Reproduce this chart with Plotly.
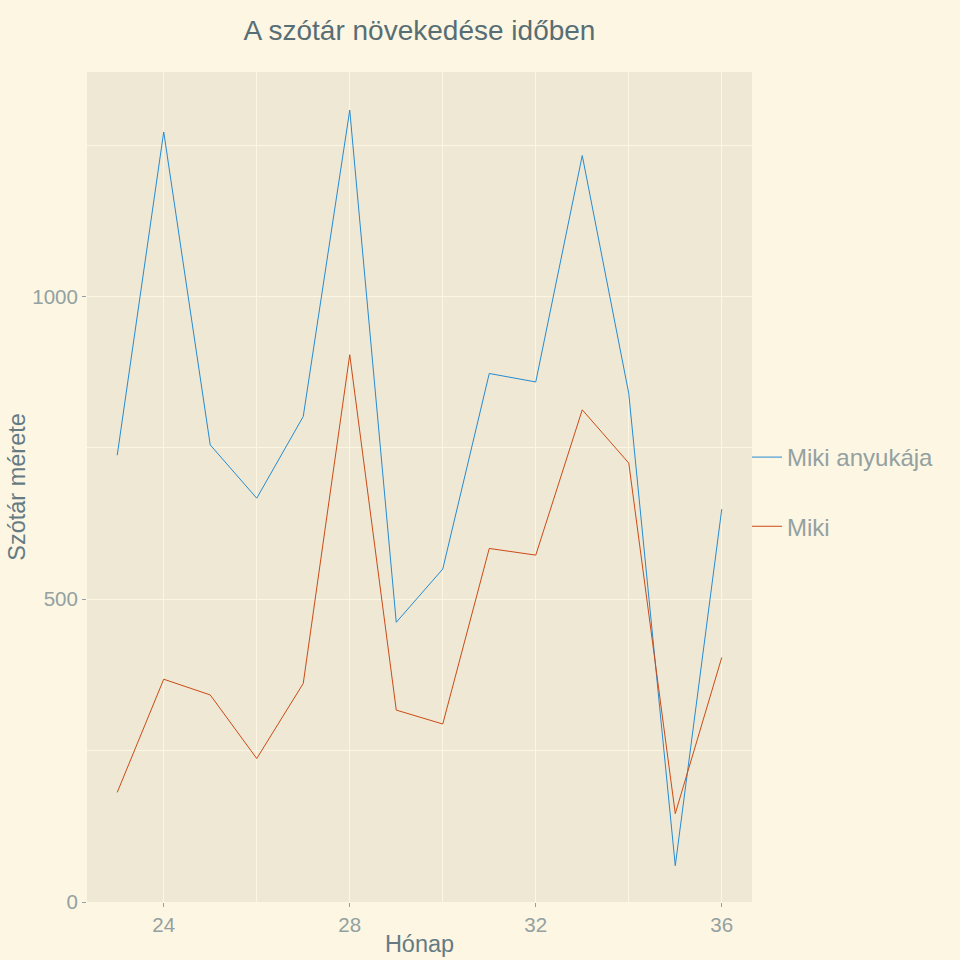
import plotly.graph_objects as go

months = [23, 24, 25, 26, 27, 28, 29, 30, 31, 32, 33, 34, 35, 36]
anyu = [738, 1272, 755, 667, 802, 1308, 462, 550, 873, 859, 1233, 840, 60, 649]
miki = [181, 368, 342, 237, 361, 904, 317, 294, 584, 573, 813, 725, 146, 404]
series_names = ["Miki anyukája", "Miki"]
colors = ["#268bd2", "#cb4b16"]

fig = go.Figure()
for name, vals, col, grp in [(series_names[0], anyu, colors[0], "a"),
                             (series_names[1], miki, colors[1], "b")]:
    fig.add_trace(go.Scatter(x=months, y=vals, mode="lines", name=name,
                             legendgroup=grp,
                             line=dict(color=col, width=1)))

font_family = "Liberation Sans"
fig.update_layout(
    width=960, height=960,
    paper_bgcolor="#fdf6e3", plot_bgcolor="#eee8d5",
    margin=dict(l=87, r=208, t=72, b=58, autoexpand=False),
    title=dict(text="A szótár növekedése időben", x=0.437, xanchor="center",
               y=0.969, yanchor="middle",
               font=dict(family=font_family, size=28, color="#586e75")),
    font=dict(family=font_family),
    showlegend=True,
    legend=dict(x=0.9925, xanchor="left", y=0.494, yanchor="middle",
                bgcolor="rgba(0,0,0,0)", tracegroupgap=35,
                font=dict(size=24, color="#93a1a1"), itemwidth=30),
    xaxis=dict(range=[22.35, 36.65], tick0=24, dtick=4, showgrid=True,
               gridcolor="#fdf6e3", gridwidth=1, zeroline=False,
               ticks="outside", ticklen=4, tickcolor="#93a1a1",
               tickfont=dict(size=20.5, color="#93a1a1"),
               automargin=False,
               minor=dict(showgrid=True, dtick=2, tick0=24, gridcolor="#fdf6e3", gridwidth=0.6),
               title=dict(text="Hónap", standoff=0,
                          font=dict(size=23.5, color="#657b83"))),
    yaxis=dict(range=[0, 1371], tick0=0, dtick=500, showgrid=True,
               gridcolor="#fdf6e3", gridwidth=1, zeroline=False,
               ticks="outside", ticklen=4, tickcolor="#93a1a1",
               tickfont=dict(size=20.5, color="#93a1a1"),
               automargin=False,
               minor=dict(showgrid=True, dtick=250, tick0=0, gridcolor="#fdf6e3", gridwidth=0.6),
               title=dict(text="Szótár mérete", standoff=0,
                          font=dict(size=23.5, color="#657b83"))),
)

fig.write_html("out.html", config={"displayModeBar": False})

with open("out.html", encoding="utf-8") as f:
    html = f.read()
html = html.replace("<head>", "<head><style>html,body{margin:0;padding:0;background:#fdf6e3;overflow:hidden;}</style>", 1)
with open("out.html", "w", encoding="utf-8") as f:
    f.write(html)
